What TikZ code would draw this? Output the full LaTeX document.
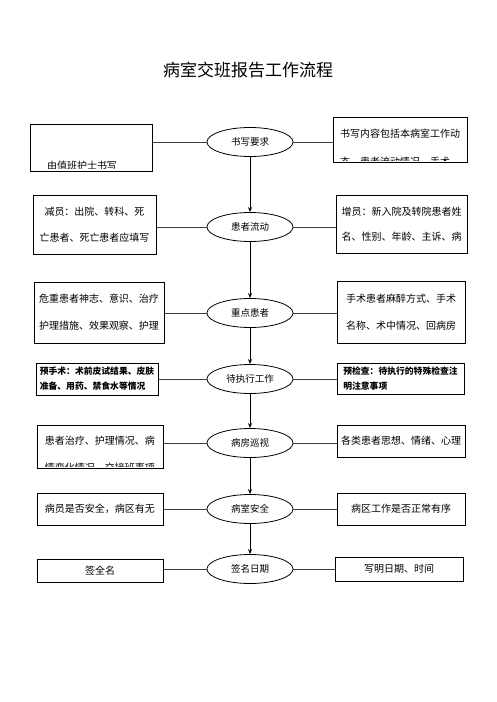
\documentclass[tikz,border=0pt]{standalone}
\usepackage{fontspec}
\setmainfont{Noto Sans CJK SC}
\usepackage{tikz}
\usetikzlibrary{shapes.geometric}
\usetikzlibrary{arrows.meta}

\begin{document}
\begin{tikzpicture}[x=1pt,y=-1pt,
        flowell/.style={ellipse,draw,line width=0.8pt,minimum width=86pt,minimum height=29pt,inner sep=0pt,font=\fontsize{9.5}{11}\selectfont},
        infobox/.style={draw,line width=1pt,inner sep=0pt,align=center,font=\fontsize{10}{12}\selectfont},
        smallbox/.style={infobox,align=left,font=\bfseries\fontsize{8.8}{10}\selectfont},
        boxtext/.style={inner sep=0pt,font=\fontsize{10}{12}\selectfont},
        link/.style={black!75,line width=0.9pt},
        flow/.style={line width=0.8pt,-{Stealth[length=5pt,width=4pt]}}]

        \useasboundingbox (0,0) rectangle (496,702);
        \node[font=\fontsize{17}{20}\selectfont] (title) at (248,70) {病室交班报告工作流程};

        \node[flowell] (write) at (250,142) {书写要求};
        \node[flowell] (move) at (250,227) {患者流动};
        \node[flowell] (key) at (250,313) {重点患者};
        \node[flowell] (todo) at (250,379) {待执行工作};
        \node[flowell] (round) at (250,443) {病房巡视};
        \node[flowell] (safe) at (250,509) {病室安全};
        \node[flowell] (sign) at (250,569) {签名日期};

        \node[infobox,minimum width=122pt,minimum height=47pt] (nurse) at (91,147.5) {};
        \begin{scope}
            \clip (31,125) rectangle (151,168);
            \node[boxtext] (nursetxt) at (82,166) {由值班护士书写};
        \end{scope}
        \node[infobox,minimum width=134pt,minimum height=45pt] (content) at (400,139.5) {};
        \node[boxtext] (contenttxt) at (400,134) {书写内容包括本病室工作动};
        \begin{scope}
            \clip (334,118) rectangle (466,160.5);
            \node[boxtext,anchor=west] (contentmore) at (340,162) {态、患者流动情况、手术};
        \end{scope}

        \node[infobox,minimum width=123pt,minimum height=59pt] (minus) at (94.5,224.5)
            {减员：出院、转科、死\\[14pt]亡患者、死亡患者应填写};
        \node[infobox,minimum width=131pt,minimum height=58pt] (plus) at (401.5,224)
            {增员：新入院及转院患者姓\\[13pt]名、性别、年龄、主诉、病};

        \node[infobox,minimum width=130pt,minimum height=61pt] (severe) at (99,312.5)
            {危重患者神志、意识、治疗\\[15pt]护理措施、效果观察、护理};
        \node[infobox,minimum width=128pt,minimum height=62pt] (surgery) at (401,312)
            {手术患者麻醉方式、手术\\[15pt]名称、术中情况、回病房};

        \node[smallbox,minimum width=122pt,minimum height=32pt] (preop) at (97,379)
            {预手术：术前皮试结果、皮肤\\[5pt]准备、用药、禁食水等情况};
        \node[smallbox,minimum width=127pt,minimum height=31pt] (precheck) at (400.5,378.5)
            {预检查：待执行的特殊检查注\\[5pt]明注意事项};

        \node[infobox,minimum width=126pt,minimum height=43pt] (care) at (100,446.5) {};
        \node[boxtext] (caretxt) at (100,441) {患者治疗、护理情况、病};
        \begin{scope}
            \clip (38,426) rectangle (162,466.5);
            \node[boxtext] (caremore) at (100,468) {情变化情况、交接班事项};
        \end{scope}
        \node[infobox,minimum width=128pt,minimum height=32pt] (mind) at (401,441)
            {各类患者思想、情绪、心理};

        \node[infobox,minimum width=126pt,minimum height=32pt] (patient) at (100,509)
            {病员是否安全，病区有无};
        \node[infobox,minimum width=128pt,minimum height=32pt] (ward) at (401,509)
            {病区工作是否正常有序};

        \node[infobox,minimum width=126pt,minimum height=23pt] (name) at (100,570.5) {签全名};
        \node[infobox,minimum width=128pt,minimum height=24pt] (date) at (399,569) {写明日期、时间};

        \draw[flow] (write.south) -- (move.north);
        \draw[flow] (move.south) -- (key.north);
        \draw[flow] (key.south) -- (todo.north);
        \draw[flow] (todo.south) -- (round.north);
        \draw[flow] (round.south) -- (safe.north);
        \draw[flow] (safe.south) -- (sign.north);

        \draw[link] (write.west) -- (write.west -| nurse.east);
        \draw[link] (write.east) -- (write.east -| content.west);
        \draw[link] (move.west) -- (move.west -| minus.east);
        \draw[link] (move.east) -- (move.east -| plus.west);
        \draw[link] (key.west) -- (key.west -| severe.east);
        \draw[link] (key.east) -- (key.east -| surgery.west);
        \draw[link] (todo.west) -- (todo.west -| preop.east);
        \draw[link] (todo.east) -- (todo.east -| precheck.west);
        \draw[link] (round.west) -- (round.west -| care.east);
        \draw[link] (round.east) -- (round.east -| mind.west);
        \draw[link] (safe.west) -- (safe.west -| patient.east);
        \draw[link] (safe.east) -- (safe.east -| ward.west);
        \draw[link] (sign.west) -- (sign.west -| name.east);
        \draw[link] (sign.east) -- (sign.east -| date.west);
    \end{tikzpicture}
\end{document}
